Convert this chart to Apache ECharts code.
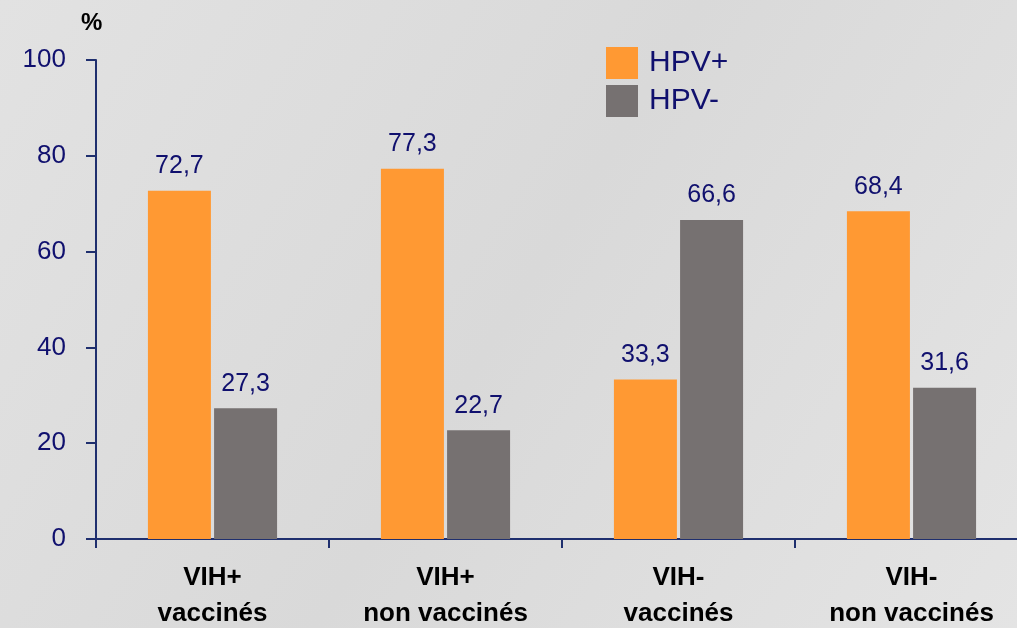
<!DOCTYPE html>
<html><head><meta charset="utf-8">
<script src="https://cdn.jsdelivr.net/npm/echarts@6/dist/echarts.min.js"></script>
<style>html,body{margin:0;padding:0;}#c{width:1017px;height:628px;}</style>
</head><body><div id="c"></div>
<script>
var categories = ['VIH+\nvaccinés', 'VIH+\nnon vaccinés', 'VIH-\nvaccinés', 'VIH-\nnon vaccinés'];
var hpvPos = [72.7, 77.3, 33.3, 68.4];
var hpvNeg = [27.3, 22.7, 66.6, 31.6];
var seriesNames = ['HPV+', 'HPV-'];
var yTicks = [0, 20, 40, 60, 80, 100];

var chart = echarts.init(document.getElementById('c'));
var fmt = function (p) { return String(p.value).replace('.', ','); };
var navy = '#10106e';
chart.setOption({
  backgroundColor: {type: 'linear', x: 0, y: 0, x2: 1, y2: 1, colorStops: [
    {offset: 0, color: '#e2e2e2'}, {offset: 0.5, color: '#d9d9d9'}, {offset: 1, color: '#e4e4e4'}]},
  textStyle: {fontFamily: 'Liberation Sans'},
  animation: false,
  title: {text: '%', left: 76, top: 6, textStyle: {fontSize: 24, fontWeight: 'bold', color: '#000', fontFamily: 'Liberation Sans'}},
  legend: {orient: 'vertical', left: 601, top: 42, itemWidth: 32, itemHeight: 32, itemGap: 6, icon: 'rect',
    textStyle: {fontSize: 30, color: navy, padding: [0, 0, 0, 6]}, data: seriesNames},
  grid: {left: 96, top: 60, bottom: 89, width: 932, containLabel: false, outerBoundsMode: 'none'},
  xAxis: {type: 'category', data: categories,
    axisLine: {lineStyle: {color: '#1f2f6e', width: 2}},
    axisTick: {show: true, length: 9, lineStyle: {color: '#1f2f6e', width: 2}},
    axisLabel: {margin: 21, fontSize: 26, fontWeight: 'bold', color: '#000', lineHeight: 36, interval: 0}},
  yAxis: {type: 'value', min: 0, max: 100, interval: 20,
    axisLine: {show: true, lineStyle: {color: '#1f2f6e', width: 2}},
    axisTick: {show: true, length: 10, lineStyle: {color: '#1f2f6e', width: 2}},
    splitLine: {show: false},
    axisLabel: {margin: 30, fontSize: 26, color: navy,
      formatter: function (v) { return yTicks.indexOf(v) >= 0 ? String(v) : ''; }}},
  series: [
    {name: seriesNames[0], type: 'bar', data: hpvPos, barWidth: 63, barGap: '5%',
     itemStyle: {color: '#ff9933'},
     label: {show: true, position: 'top', distance: 12, fontSize: 25, color: navy, formatter: fmt}},
    {name: seriesNames[1], type: 'bar', data: hpvNeg, barWidth: 63, barGap: '5%',
     itemStyle: {color: '#767171'},
     label: {show: true, position: 'top', distance: 12, fontSize: 25, color: navy, formatter: fmt}}
  ]
});
</script></body></html>
